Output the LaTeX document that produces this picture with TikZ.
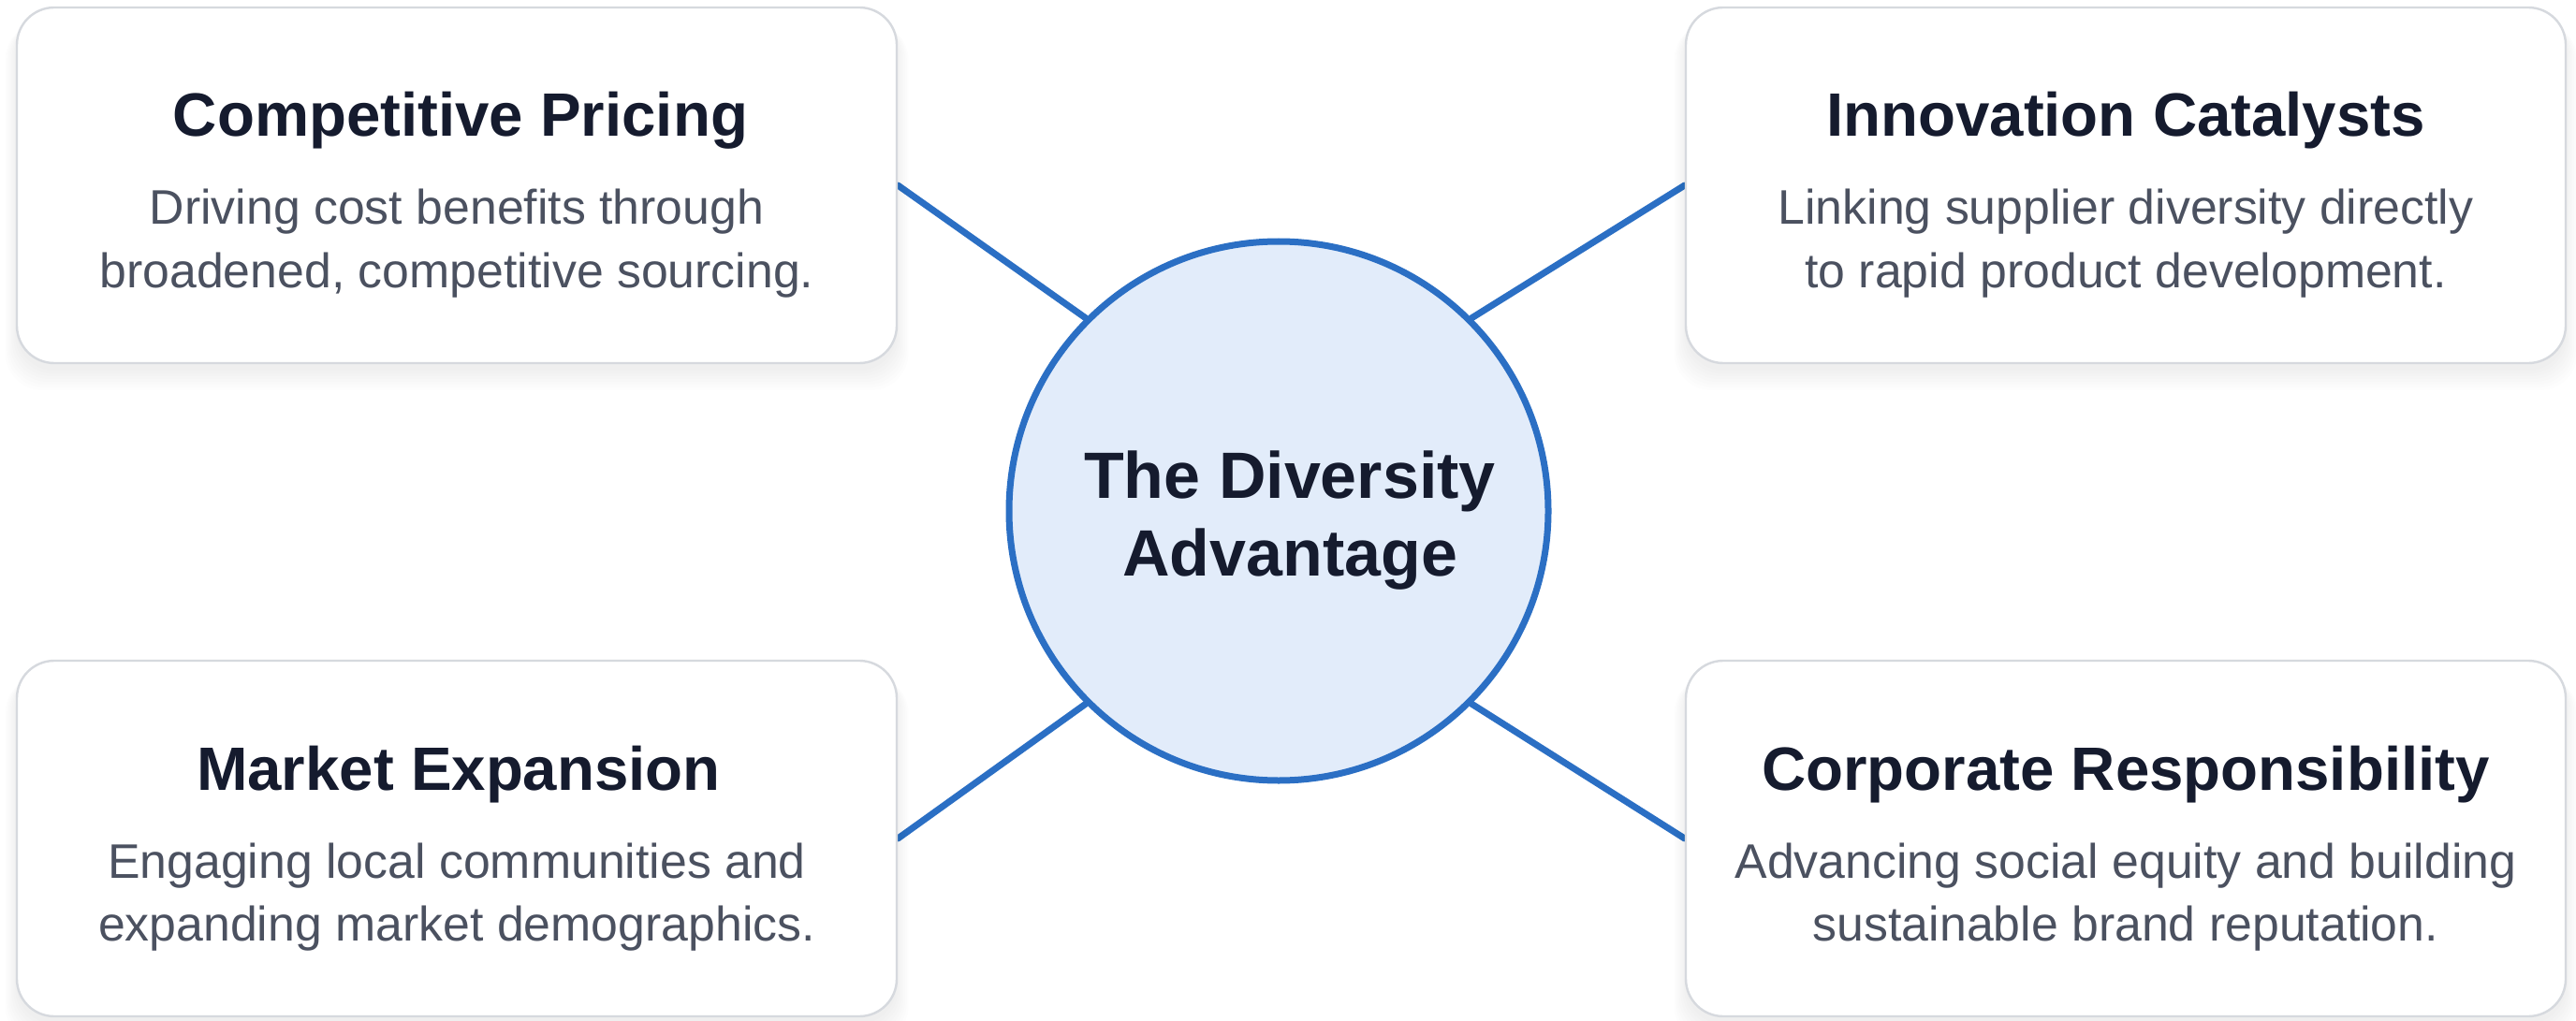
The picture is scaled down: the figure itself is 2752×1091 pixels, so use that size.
\documentclass[tikz,border=0pt]{standalone}
\usepackage{fontspec}
\setmainfont{Liberation Sans}
\usetikzlibrary{calc}
\pgfdeclarelayer{back}
\pgfdeclarelayer{bg}
\pgfsetlayers{back,bg,main}
\definecolor{navy}{HTML}{151B2E}
\definecolor{bodygray}{HTML}{4B5160}
\definecolor{accent}{HTML}{2B6FC4}
\definecolor{circfill}{HTML}{E2ECFA}
\definecolor{boxline}{HTML}{D6D9DE}
\newcommand\cardshadow[2]{%
  \foreach \e in {0,3,...,21} {%
    \fill[black,opacity=0.009,rounded corners=20pt]
      (#1-470-\e*0.6,#2-180+\e*0.3) rectangle (#1+470+\e*0.6,#2+198+\e);
  }%
}
\begin{document}
\begin{tikzpicture}[x=0.5pt,y=-0.5pt,
  card/.style={draw=boxline, line width=1.2pt, fill=white, rounded corners=20pt,
    minimum width=470pt, minimum height=190pt, inner sep=0pt},
  ttl/.style={anchor=base, font=\fontsize{32.7}{39}\selectfont\bfseries, text=navy, inner sep=0pt},
  desc/.style={anchor=base, font=\fontsize{25.9}{31}\selectfont, text=bodygray, inner sep=0pt},
  hubtxt/.style={anchor=base, font=\fontsize{35}{42}\selectfont\bfseries, text=navy, inner sep=0pt},
  link/.style={draw=accent, line width=3.5pt, line cap=round},
  hub/.style={circle, draw=accent, line width=3.5pt, fill=circfill, minimum size=288pt, inner sep=0pt}
]
\begin{pgfonlayer}{back}
\fill[white] (0,0) rectangle (2752,1091);
\end{pgfonlayer}
\useasboundingbox (0,0) rectangle (2752,1091);

% shadows
\cardshadow{488}{198}
\cardshadow{2271}{198}
\cardshadow{488}{896}
\cardshadow{2271}{896}

% cards
\node[card] (tl) at (488,198) {};
\node[card] (tr) at (2271,198) {};
\node[card] (bl) at (488,896) {};
\node[card] (br) at (2271,896) {};

% hub
\node[hub] (hub) at (1366,546) {};

% connectors
\begin{pgfonlayer}{bg}
\draw[link] (tl.east) -- (hub.135);
\draw[link] (tr.west) -- (hub.45);
\draw[link] (bl.east) -- (hub.225);
\draw[link] (br.west) -- (hub.315);
\end{pgfonlayer}

% hub text
\node[hubtxt] (hubA) at (1378,532) {The Diversity};
\node[hubtxt] (hubB) at (1378,615) {Advantage};

% texts top-left
\node[ttl] (tlT) at (492,146) {Competitive Pricing};
\node[desc] (tlA) at (488,240) {Driving cost benefits through};
\node[desc] (tlB) at (488,307) {broadened, competitive sourcing.};

% texts top-right
\node[ttl] (trT) at (2271,146) {Innovation Catalysts};
\node[desc] (trA) at (2271,240) {Linking supplier diversity directly};
\node[desc] (trB) at (2271,307) {to rapid product development.};

% texts bottom-left
\node[ttl] (blT) at (490,844) {Market Expansion};
\node[desc] (blA) at (488,938) {Engaging local communities and};
\node[desc] (blB) at (488,1005) {expanding market demographics.};

% texts bottom-right
\node[ttl] (brT) at (2271,844) {Corporate Responsibility};
\node[desc] (brA) at (2271,938) {Advancing social equity and building};
\node[desc] (brB) at (2271,1005) {sustainable brand reputation.};
\end{tikzpicture}
\end{document}
